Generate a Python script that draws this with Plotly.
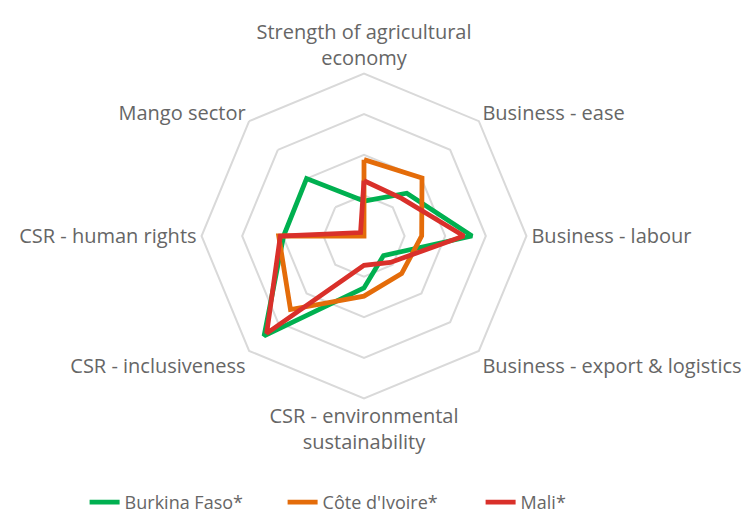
import plotly.graph_objects as go

categories = [
    "Strength of agricultural<br>economy",
    "Business - ease",
    "Business - labour",
    "Business - export & logistics",
    "CSR - environmental<br>sustainability",
    "CSR - inclusiveness",
    "CSR - human rights",
    "Mango sector",
]
burkina = [0.86, 1.49, 2.66, 0.68, 1.28, 3.48, 1.98, 2.0]
cote = [1.88, 2.02, 1.42, 1.31, 1.48, 2.56, 2.1, 0.0]
mali = [1.36, 1.31, 2.46, 0.92, 0.72, 3.39, 2.06, 0.12]

series = [
    ("Burkina Faso*", burkina, "#00B050"),
    ("Côte d'Ivoire*", cote, "#E46C0A"),
    ("Mali*", mali, "#D9302A"),
]

fig = go.Figure()
for name, vals, col in series:
    fig.add_trace(go.Scatterpolar(
        r=vals + vals[:1],
        theta=categories + categories[:1],
        mode="lines",
        name=name,
        line=dict(color=col, width=4.8),
    ))

W, H = 751, 513
cx, cy, R = 356, 233, 166
fig.update_layout(
    width=W, height=H,
    margin=dict(l=0, r=0, t=0, b=0),
    paper_bgcolor="white",
    plot_bgcolor="white",
    font=dict(family="Open Sans", size=20, color="#666666"),
    polar=dict(
        domain=dict(x=[(cx - R) / W, (cx + R) / W], y=[1 - (cy + R) / H, 1 - (cy - R) / H]),
        gridshape="linear",
        bgcolor="white",
        angularaxis=dict(
            direction="clockwise", rotation=90,
            showgrid=False, showline=True, linecolor="#D9D9D9", linewidth=2,
            ticks="", tickfont=dict(size=20, color="#666666"),
        ),
        radialaxis=dict(
            range=[0, 4], dtick=1, showticklabels=False, ticks="",
            showline=False, gridcolor="#D9D9D9", gridwidth=2,
        ),
    ),
    legend=dict(
        orientation="h", x=0.102, xanchor="left", y=-0.022, yanchor="bottom",
        font=dict(size=18, color="#666666"),
        entrywidth=153, entrywidthmode="pixels",
    ),
)

fig.write_html("out.html")
